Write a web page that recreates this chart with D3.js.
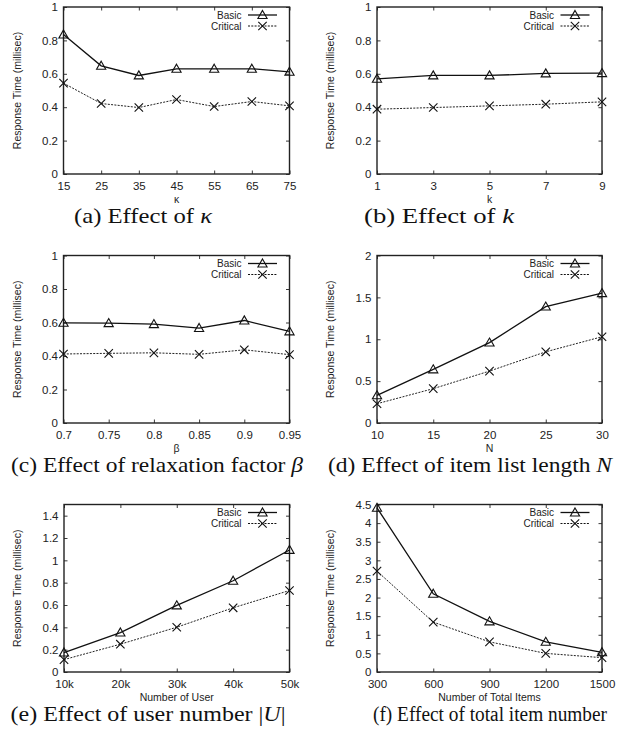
<!DOCTYPE html>
<html>
<head>
<meta charset="utf-8">
<script src="https://cdn.jsdelivr.net/npm/d3@7"></script>
<style>
body { margin: 0; background: #fff; }
text { font-family: "Liberation Sans", Arial, sans-serif; fill: #222; }
.caption { font-family: "Liberation Serif", "Times New Roman", serif; fill: #111; }
</style>
</head>
<body>
<div id="chart-area"></div>
<script>

// SVG Size
var width = 621,
	height = 732;

// (a) effect of kappa
var kappaX = [15, 25, 35, 45, 55, 65, 75];
var kappaBasic = [0.835, 0.648, 0.59, 0.63, 0.63, 0.63, 0.612];
var kappaCritical = [0.544, 0.422, 0.398, 0.446, 0.404, 0.434, 0.408];

// (b) effect of k
var kX = [1, 3, 5, 7, 9];
var kBasic = [0.57, 0.59, 0.59, 0.602, 0.604];
var kCritical = [0.388, 0.398, 0.408, 0.418, 0.432];

// (c) effect of beta
var betaX = [0.7, 0.75, 0.8, 0.85, 0.9, 0.95];
var betaBasic = [0.598, 0.596, 0.59, 0.567, 0.612, 0.547];
var betaCritical = [0.412, 0.416, 0.419, 0.41, 0.437, 0.408];

// (d) effect of N
var nX = [10, 15, 20, 25, 30];
var nBasic = [0.33, 0.64, 0.96, 1.39, 1.55];
var nCritical = [0.23, 0.41, 0.62, 0.85, 1.03];

// (e) effect of user number (thousands)
var userX = [10, 20, 30, 40, 50];
var userBasic = [0.174, 0.353, 0.596, 0.817, 1.093];
var userCritical = [0.111, 0.249, 0.401, 0.575, 0.73];

// (f) effect of total items
var itemX = [300, 600, 900, 1200, 1500];
var itemBasic = [4.41, 2.1, 1.36, 0.81, 0.53];
var itemCritical = [2.71, 1.34, 0.81, 0.5, 0.385];

// y tick values
var yTicksUnit = [0, 0.2, 0.4, 0.6, 0.8, 1];
var yTicksN = [0, 0.5, 1, 1.5, 2];
var yTicksUser = [0, 0.2, 0.4, 0.6, 0.8, 1, 1.2, 1.4];
var yTicksItem = [0, 0.5, 1, 1.5, 2, 2.5, 3, 3.5, 4, 4.5];

var seriesNames = ["Basic", "Critical"];

var panels = [
	{ x: kappaX, basic: kappaBasic, critical: kappaCritical, yMax: 1, yTicks: yTicksUnit,
	  box: [63.5, 7, 289.5, 174], xTitle: "κ", capX: 143, capW: 138, capSize: 22,
	  caption: [["(a) Effect of ", false], ["κ", true]] },
	{ x: kX, basic: kBasic, critical: kCritical, yMax: 1, yTicks: yTicksUnit,
	  box: [377, 7, 602, 174], xTitle: "k", capX: 439, capW: 150, capSize: 22,
	  caption: [["(b) Effect of ", false], ["k", true]] },
	{ x: betaX, basic: betaBasic, critical: betaCritical, yMax: 1, yTicks: yTicksUnit,
	  box: [63.5, 255.5, 289.5, 423], xTitle: "β", capX: 157, capW: 292, capSize: 22,
	  caption: [["(c) Effect of relaxation factor ", false], ["β", true]] },
	{ x: nX, basic: nBasic, critical: nCritical, yMax: 2, yTicks: yTicksN,
	  box: [377, 255.5, 602, 423], xTitle: "N", capX: 470, capW: 284, capSize: 22,
	  caption: [["(d) Effect of item list length ", false], ["N", true]] },
	{ x: userX, basic: userBasic, critical: userCritical, yMax: 1.5, yTicks: yTicksUser,
	  box: [64, 504.5, 289.5, 672], xTitle: "Number of User", capX: 148, capW: 275, capSize: 22,
	  fmt: function(d){ return d + "k"; },
	  caption: [["(e) Effect of user number |", false], ["U", true], ["|", false]] },
	{ x: itemX, basic: itemBasic, critical: itemCritical, yMax: 4.5, yTicks: yTicksItem,
	  box: [377, 504.5, 602, 672], xTitle: "Number of Total Items", capX: 490, capW: 234, capSize: 20,
	  caption: [["(f) Effect of total item number", false]] }
];

var svg = d3.select("#chart-area")
		.append("svg")
		.attr("width", width)
		.attr("height", height);

panels.forEach(function(p){ renderPanel(p); });

function triangle(g, x, y){
	var s = 4.6;
	g.append("path")
		.attr("d", "M" + x + "," + (y - s) + "L" + (x + s) + "," + (y + s * 0.75) + "L" + (x - s) + "," + (y + s * 0.75) + "Z")
		.attr("fill", "none")
		.attr("stroke", "#111")
		.attr("stroke-width", 1.1);
}

function cross(g, x, y){
	var s = 4.2;
	g.append("path")
		.attr("d", "M" + (x - s) + "," + (y - s) + "L" + (x + s) + "," + (y + s) + "M" + (x - s) + "," + (y + s) + "L" + (x + s) + "," + (y - s))
		.attr("stroke", "#111")
		.attr("stroke-width", 1.1);
}

function renderPanel(p){
	var left = p.box[0], top = p.box[1], right = p.box[2], bottom = p.box[3];

	var xScale = d3.scaleLinear()
			.domain([d3.min(p.x), d3.max(p.x)])
			.range([left, right]);
	var yScale = d3.scaleLinear()
			.domain([0, p.yMax])
			.range([bottom, top]);

	var fmt = p.fmt || function(d){ return String(d); };

	var xAxis = d3.axisBottom(xScale).tickValues(p.x).tickFormat(fmt)
			.tickSizeInner(-3.5).tickSizeOuter(0).tickPadding(7.5);
	var xTop = d3.axisTop(xScale).tickValues(p.x).tickFormat("")
			.tickSizeInner(-3.5).tickSizeOuter(0);
	var yAxis = d3.axisLeft(yScale).tickValues(p.yTicks).tickFormat(function(d){ return String(+d.toFixed(2)); })
			.tickSizeInner(-3.5).tickSizeOuter(0).tickPadding(5.5);
	var yRight = d3.axisRight(yScale).tickValues(p.yTicks).tickFormat("")
			.tickSizeInner(-3.5).tickSizeOuter(0);

	var gx = svg.append("g").attr("transform", "translate(0," + bottom + ")").call(xAxis);
	svg.append("g").attr("transform", "translate(0," + top + ")").call(xTop);
	var gy = svg.append("g").attr("transform", "translate(" + left + ",0)").call(yAxis);
	svg.append("g").attr("transform", "translate(" + right + ",0)").call(yRight);

	svg.selectAll(".domain").remove();
	svg.selectAll(".tick line").attr("stroke", "#222").attr("stroke-width", 0.9);
	gx.selectAll("text").attr("font-size", "11.5px").attr("font-family", "Liberation Sans, Arial, sans-serif").attr("fill", "#222");
	gy.selectAll("text").attr("font-size", "11.5px").attr("font-family", "Liberation Sans, Arial, sans-serif").attr("fill", "#222");

	// border
	svg.append("rect")
		.attr("x", left).attr("y", top)
		.attr("width", right - left).attr("height", bottom - top)
		.attr("fill", "none")
		.attr("stroke", "#222")
		.attr("stroke-width", 1.4);

	var line = d3.line()
			.x(function(d){ return xScale(d[0]); })
			.y(function(d){ return yScale(d[1]); });

	var basicPts = p.x.map(function(v, i){ return [v, p.basic[i]]; });
	var criticalPts = p.x.map(function(v, i){ return [v, p.critical[i]]; });

	svg.append("path")
		.attr("d", line(basicPts))
		.attr("fill", "none")
		.attr("stroke", "#111")
		.attr("stroke-width", 1.3);
	svg.append("path")
		.attr("d", line(criticalPts))
		.attr("fill", "none")
		.attr("stroke", "#222")
		.attr("stroke-width", 1)
		.attr("stroke-dasharray", "2,1.3");

	var marks = svg.append("g");
	basicPts.forEach(function(d){ triangle(marks, xScale(d[0]), yScale(d[1])); });
	criticalPts.forEach(function(d){ cross(marks, xScale(d[0]), yScale(d[1])); });

	// legend
	var lg = svg.append("g");
	seriesNames.forEach(function(name, i){
		var ly = top + 8 + i * 11;
		lg.append("text").text(name)
			.attr("x", right - 48).attr("y", ly + 3.6)
			.attr("text-anchor", "end")
			.attr("font-size", "10px");
		lg.append("line")
			.attr("x1", right - 41.5).attr("x2", right - 12.5)
			.attr("y1", ly).attr("y2", ly)
			.attr("stroke", "#111")
			.attr("stroke-width", i == 0 ? 1.3 : 1)
			.attr("stroke-dasharray", i == 0 ? null : "2,1.3");
		if (i == 0) triangle(lg, right - 27, ly);
		else cross(lg, right - 27, ly);
	});

	// axis names
	svg.append("text").text(p.xTitle)
		.attr("x", (left + right) / 2)
		.attr("y", bottom + 28.5)
		.attr("text-anchor", "middle")
		.attr("font-size", "10.5px");
	svg.append("text").text("Response Time (millisec)")
		.attr("transform", "translate(" + (left - 43) + "," + ((top + bottom) / 2) + ") rotate(-90)")
		.attr("text-anchor", "middle")
		.attr("font-size", "10.5px");

	// caption, stretched to the width seen in the figure
	var cap = svg.append("text")
		.attr("class", "caption")
		.attr("font-size", p.capSize + "px")
		.attr("x", p.capX - p.capW / 2)
		.attr("y", bottom + 49)
		.attr("textLength", p.capW)
		.attr("lengthAdjust", "spacingAndGlyphs");
	p.caption.forEach(function(part){
		cap.append("tspan").text(part[0])
			.attr("font-style", part[1] ? "italic" : null);
	});
}

</script>
</body>
</html>
